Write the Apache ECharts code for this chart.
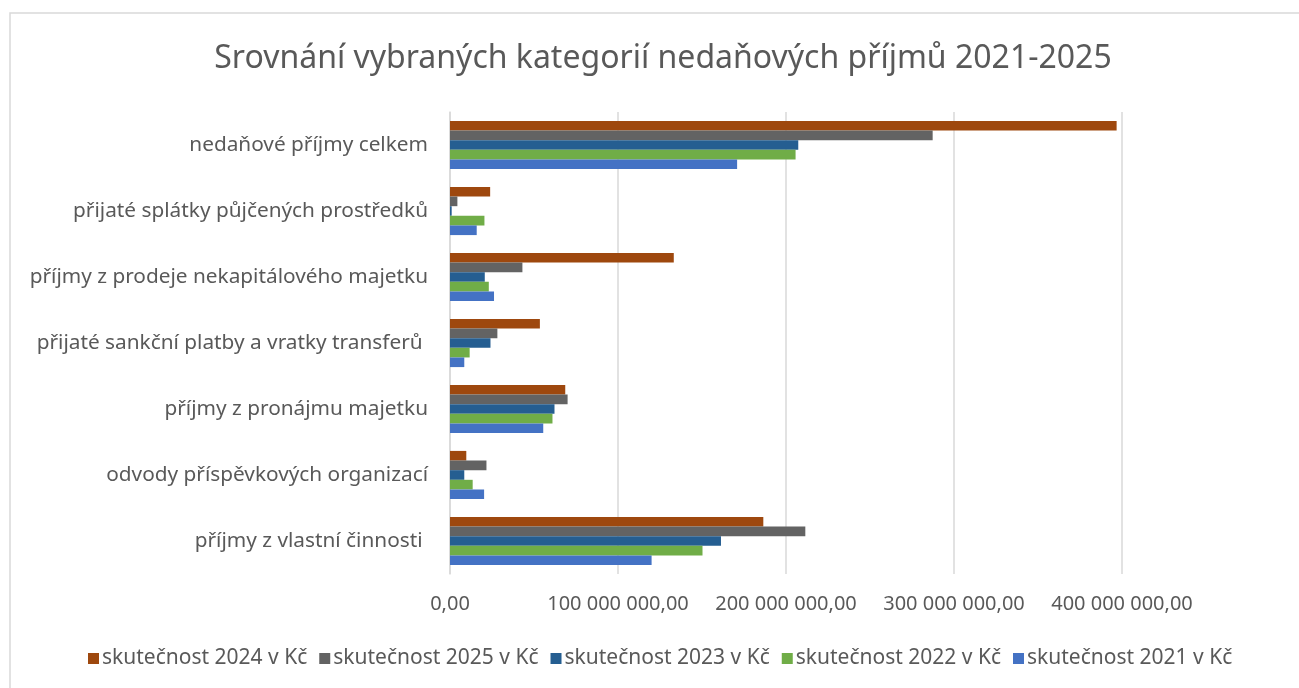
<!DOCTYPE html>
<html lang="cs">
<head>
    <meta charset="UTF-8">
    <title>Srovnání vybraných kategorií nedaňových příjmů 2021-2025</title>
    <script src="https://cdn.jsdelivr.net/npm/echarts@6/dist/echarts.min.js"></script>
    <style>
        body { margin: 0; background: #fff; }
        #chart { width: 1299px; height: 688px; }
    </style>
</head>
<body>
<div id="chart"></div>
<script>
    // kategorie (shora dolů)
    var categories = [
        'nedaňové příjmy celkem',
        'přijaté splátky půjčených prostředků',
        'příjmy z prodeje nekapitálového majetku',
        'přijaté sankční platby a vratky transferů ',
        'příjmy z pronájmu majetku',
        'odvody příspěvkových organizací',
        'příjmy z vlastní činnosti '
    ];

    // hodnoty v Kč
    var s2024 = [396800000, 23900000, 133200000, 53500000, 68600000, 9700000, 186500000];
    var s2025 = [287300000, 4400000, 43100000, 28200000, 70000000, 21700000, 211500000];
    var s2023 = [207300000, 1000000, 20700000, 24100000, 62200000, 8500000, 161300000];
    var s2022 = [205700000, 20500000, 23100000, 11700000, 61000000, 13500000, 150300000];
    var s2021 = [170900000, 15900000, 26200000, 8500000, 55500000, 20300000, 120000000];

    var seriesNames = ['skutečnost 2024 v Kč', 'skutečnost 2025 v Kč', 'skutečnost 2023 v Kč',
        'skutečnost 2022 v Kč', 'skutečnost 2021 v Kč'];
    var seriesData = [s2024, s2025, s2023, s2022, s2021];
    var colors = ['#9E480E', '#636363', '#255E91', '#70AD47', '#4472C4'];

    var font = 'Noto Sans';
    var grey = '#595959';

    function fmt(v) {
        return String(v).replace(/\B(?=(\d{3})+(?!\d))/g, ' ') + ',00';
    }

    var chart = echarts.init(document.getElementById('chart'));

    var option = {
        animation: false,
        color: colors,
        textStyle: { fontFamily: font },
        graphic: [{
            type: 'rect',
            shape: { x: 10, y: 13, width: 1300, height: 700 },
            style: { fill: 'none', stroke: '#d9d9d9', lineWidth: 1.5 },
            z: -1
        }],
        title: {
            text: 'Srovnání vybraných kategorií nedaňových příjmů 2021-2025',
            left: 658,
            textAlign: 'center',
            top: 38,
            textStyle: { fontFamily: font, fontSize: 32, fontWeight: 'normal', color: grey }
        },
        legend: {
            top: 643,
            left: 83,
            icon: 'rect',
            itemWidth: 11,
            itemHeight: 11,
            itemGap: 12,
            textStyle: { fontFamily: font, fontSize: 21, color: grey, padding: [0, 0, 0, -2] },
            data: seriesNames
        },
        grid: { left: 450, right: 177, top: 112, bottom: 114 },
        xAxis: {
            type: 'value',
            min: 0,
            max: 400000000,
            interval: 100000000,
            axisLine: { show: false },
            axisTick: { show: false },
            axisLabel: { color: grey, fontSize: 20, margin: 20, formatter: fmt },
            splitLine: { lineStyle: { color: '#d9d9d9', width: 1.5 } }
        },
        yAxis: {
            type: 'category',
            inverse: true,
            data: categories,
            axisLine: { lineStyle: { color: '#d9d9d9', width: 1.5 } },
            axisTick: { show: false },
            axisLabel: { color: grey, fontSize: 20.8, margin: 22 }
        },
        series: seriesNames.map(function (name, i) {
            return {
                name: name,
                type: 'bar',
                data: seriesData[i],
                barGap: '0%',
                barCategoryGap: '27%'
            };
        })
    };

    chart.setOption(option);
</script>
</body>
</html>
